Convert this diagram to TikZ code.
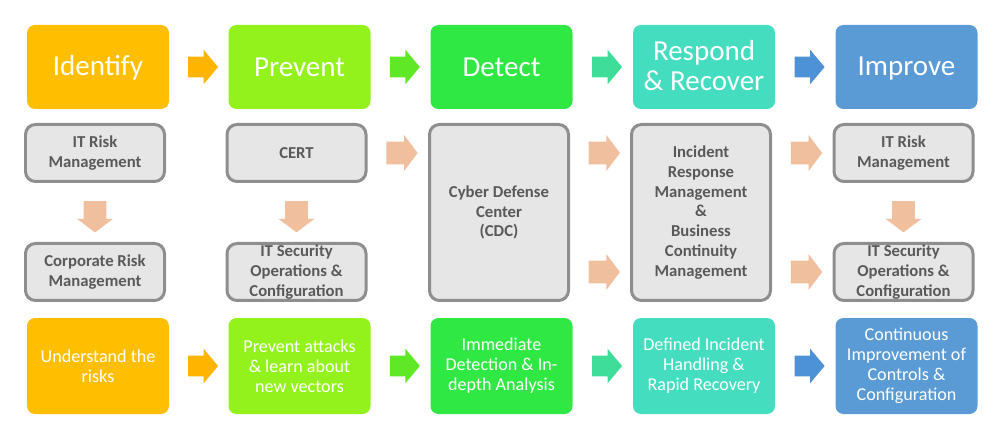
\documentclass[tikz,border=0pt]{standalone}
\usepackage{fontspec}
\setmainfont{Carlito}
\usepackage{tikz}
\usetikzlibrary{shapes.arrows,calc}
\definecolor{idcol}{RGB}{255,191,0}
\definecolor{prcol}{RGB}{148,242,28}
\definecolor{decol}{RGB}{47,232,67}
\definecolor{recol}{RGB}{69,221,192}
\definecolor{imcol}{RGB}{91,155,213}
\definecolor{idarr}{RGB}{255,180,0}
\definecolor{prarr}{RGB}{94,232,37}
\definecolor{dearr}{RGB}{62,222,154}
\definecolor{rearr}{RGB}{77,146,214}
\definecolor{peach}{RGB}{240,191,158}
\definecolor{greyfill}{RGB}{230,230,230}
\definecolor{greyline}{RGB}{142,142,142}
\definecolor{greytext}{RGB}{89,89,89}
\tikzset{
  head/.style={rounded corners=0.16cm, minimum width=2.84cm, minimum height=1.68cm,
    text=white, align=center, inner sep=0pt, font=\fontsize{16.5}{17}\selectfont,
    execute at begin node={\rule[-0.1em]{0pt}{0.85em}}},
  foot/.style={rounded corners=0.16cm, minimum width=2.84cm, minimum height=1.92cm,
    text=white, align=center, inner sep=0pt, font=\fontsize{10.3}{11.3}\selectfont},
  unit/.style={draw=greyline, fill=greyfill, line width=0.06cm, rounded corners=0.2cm,
    minimum width=2.78cm, minimum height=1.14cm, text=greytext, align=center,
    inner sep=0pt, font=\bfseries\fontsize{9.5}{11.3}\selectfont},
  tallunit/.style={unit, minimum height=3.52cm},
  flow/.style={single arrow, draw=none, inner sep=0.2cm, minimum height=0.6cm,
    minimum width=0.68cm, single arrow head extend=0.14cm, single arrow tip angle=100},
  link/.style={single arrow, draw=none, fill=peach, inner sep=0.22cm, minimum height=0.58cm,
    minimum width=0.7cm, single arrow head extend=0.13cm, single arrow tip angle=106}
}
\begin{document}
\begin{tikzpicture}
\useasboundingbox (0,0) rectangle (20,8.8);

\node[head, fill=idcol] (idh) at (1.96,7.46) {Identify};
\node[head, fill=prcol] (prh) at (5.99,7.46) {Prevent};
\node[head, fill=decol] (deh) at (10.03,7.46) {Detect};
\node[head, fill=recol] (reh) at (14.08,7.46) {Respond\\\& Recover};
\node[head, fill=imcol] (imh) at (18.13,7.46) {Improve};

\node[unit] (itrisk) at (1.90,5.74) {IT Risk\\Management};
\node[unit] (corprisk) at (1.90,3.36) {Corporate Risk\\Management};
\node[unit] (cert) at (5.93,5.74) {CERT};
\node[unit] (itsec) at (5.93,3.36) {IT Security\\Operations \&\\Configuration};
\node[tallunit] (cdc) at (9.98,4.55) {Cyber Defense\\Center\\(CDC)};
\node[tallunit] (incident) at (14.02,4.55) {Incident\\Response\\Management\\\&\\Business\\Continuity\\Management};
\node[unit] (itrisk2) at (18.07,5.74) {IT Risk\\Management};
\node[unit] (itsec2) at (18.07,3.36) {IT Security\\Operations \&\\Configuration};

\node[foot, fill=idcol] (idf) at (1.96,1.48) {Understand the\\risks};
\node[foot, fill=prcol] (prf) at (5.99,1.48) {Prevent attacks\\\& learn about\\new vectors};
\node[foot, fill=decol] (def) at (10.03,1.48) {Immediate\\Detection \& In-\\depth Analysis};
\node[foot, fill=recol] (ref) at (14.08,1.48) {Defined Incident\\Handling \&\\Rapid Recovery};
\node[foot, fill=imcol] (imf) at (18.13,1.48) {Continuous\\Improvement of\\Controls \&\\Configuration};

% arrows between the phases
\node[flow, fill=idarr] at ($(idh.east)!0.5!(prh.west)$) {};
\node[flow, fill=prarr] at ($(prh.east)!0.5!(deh.west)$) {};
\node[flow, fill=dearr] at ($(deh.east)!0.5!(reh.west)$) {};
\node[flow, fill=rearr] at ($(reh.east)!0.5!(imh.west)$) {};
\node[flow, fill=idarr] at ($(idf.east)!0.5!(prf.west)$) {};
\node[flow, fill=prarr] at ($(prf.east)!0.5!(def.west)$) {};
\node[flow, fill=dearr] at ($(def.east)!0.5!(ref.west)$) {};
\node[flow, fill=rearr] at ($(ref.east)!0.5!(imf.west)$) {};

% arrows between the units
\node[link, shape border rotate=270] at ($(itrisk.south)!0.5!(corprisk.north)$) {};
\node[link, shape border rotate=270] at ($(cert.south)!0.5!(itsec.north)$) {};
\node[link, shape border rotate=270] at ($(itrisk2.south)!0.5!(itsec2.north)$) {};
\node[link] at ($(cert.east)!0.5!(cert.east -| cdc.west)$) {};
\node[link] at ($(cdc.east |- itrisk.east)!0.5!(incident.west |- itrisk.east)$) {};
\node[link] at ($(cdc.east |- corprisk.east)!0.5!(incident.west |- corprisk.east)$) {};
\node[link] at ($(incident.east |- itrisk2.west)!0.5!(itrisk2.west)$) {};
\node[link] at ($(incident.east |- itsec2.west)!0.5!(itsec2.west)$) {};

\end{tikzpicture}
\end{document}
